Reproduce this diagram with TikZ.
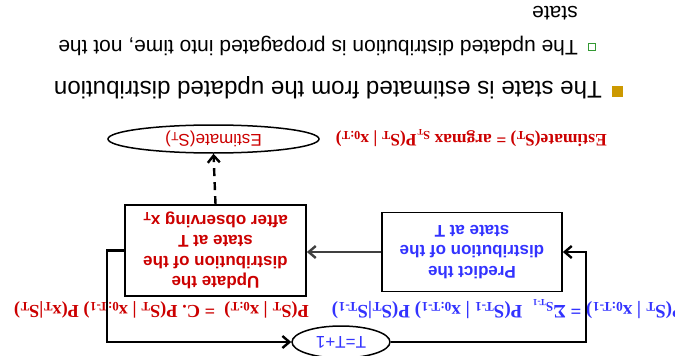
\documentclass[tikz,border=0pt]{standalone}
\usepackage{fontspec}
\setmainfont{Liberation Serif}
\setsansfont{Liberation Sans}
\usetikzlibrary{arrows.meta,shapes.geometric}
\definecolor{myred}{HTML}{CC0000}
\definecolor{myblue}{HTML}{3333FF}
\definecolor{mygray}{HTML}{404040}
\definecolor{mygold}{HTML}{CC9900}
\definecolor{mygreen}{HTML}{339933}
\tikzset{
  stepbox/.style={draw=black, line width=1.8pt, fill=white, align=center, inner sep=2pt,
    font=\sffamily\bfseries\fontsize{17}{20.5}\selectfont},
  ovalnode/.style={ellipse, draw=black, line width=1.5pt, fill=white, inner sep=0pt,
    font=\sffamily\fontsize{17}{20}\selectfont},
  flow/.style={line width=2.4pt, -{Straight Barb[length=7pt,width=12pt]}},
  formula/.style={inner sep=0pt, anchor=base west},
}
\begin{document}
\begin{tikzpicture}[x=1pt,y=1pt]
\useasboundingbox (0,0) rectangle (675,-356);
\fill[white] (0,0) rectangle (675,-356);
\begin{scope}[rotate around={180:(337.5,-178)}, transform shape]
  % bullets
  \node[fill=mygold, minimum size=11pt, inner sep=0pt] (b1) at (58,-265) {};
  \node[anchor=base west, inner sep=0pt, font=\sffamily\fontsize{24.1}{29}\selectfont] (t1) at (73,-275)
    {The state is estimated from the updated distribution};
  \node[draw=mygreen, line width=1pt, minimum size=7pt, inner sep=0pt] (b2) at (83.5,-309.5) {};
  \node[anchor=north west, inner sep=0pt, align=left, font=\sffamily\fontsize{21}{34}\selectfont] (t2) at (97,-300)
    {The updated distribution is propagated into time, not the\\state};
  % boxes
  \node[stepbox, text=myred, minimum width=181pt, minimum height=91pt] (upd) at (459.5,-105.5)
    {Update the\\distribution of the\\state at T\\after observing x\textsubscript{T}};
  \node[stepbox, text=myblue, minimum width=180pt, minimum height=79pt] (pred) at (203,-104)
    {Predict the\\distribution of the\\state at T};
  \node[ovalnode, text=myred, minimum width=211pt, minimum height=28pt] (est) at (461.5,-217)
    {Estimate(S\textsubscript{T})};
  \node[ovalnode, text=myblue, minimum width=98pt, minimum height=32pt] (tt) at (334,-14) {T=T+1};
  % formulas
  \node[formula, text=myred, font=\bfseries\fontsize{17.5}{20}\selectfont] (festa) at (68,-222)
    {Estimate(S\textsubscript{T}) = argmax \textsubscript{S\textsubscript{T}}P(S\textsubscript{T} | x\textsubscript{0:T})};
  \node[formula, text=myred, font=\bfseries\fontsize{18.3}{20}\selectfont] (fupd) at (366,-51)
    {P(S\textsubscript{T} | x\textsubscript{0:T}) \ = C. P(S\textsubscript{T} | x\textsubscript{0:T-1}) P(x\textsubscript{T}|S\textsubscript{T})};
  \node[formula, text=myblue, font=\bfseries\fontsize{19}{20}\selectfont] (fpred) at (-9,-51)
    {P(S\textsubscript{T} | x\textsubscript{0:T-1}) = Σ\textsubscript{S\textsubscript{T-1}} \ P(S\textsubscript{T-1} | x\textsubscript{0:T-1}) P(S\textsubscript{T}|S\textsubscript{T-1})};
  % connectors
  \draw[flow, draw=mygray] (pred.east) -- (pred.east -| upd.west);
  \draw[flow, dash pattern=on 8pt off 6pt] (upd.south) -- (est.north);
  \draw[flow] (upd.east) -- ++(17,0) |- (tt.east);
  \draw[flow] (tt.west) -- ++(-195,0) |- (pred.west);
\end{scope}
\end{tikzpicture}
\end{document}
